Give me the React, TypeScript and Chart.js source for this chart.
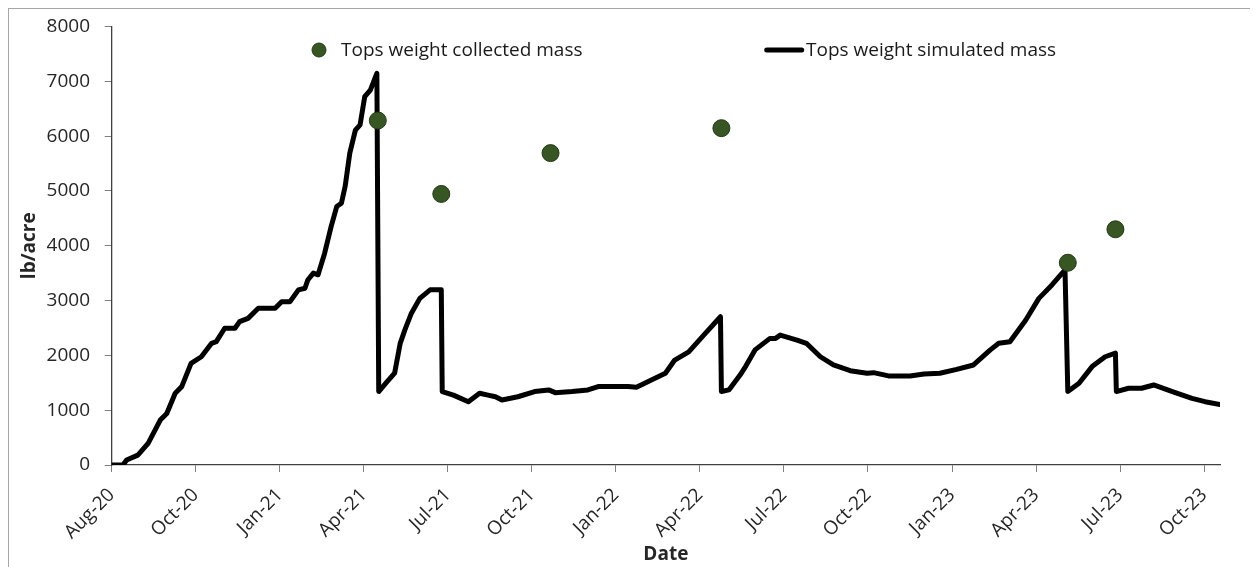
import React, { useEffect, useRef } from "react";
import { Chart, registerables } from "chart.js";

Chart.register(...registerables);

// x values are days since 2020-08-01
const SIM_DAYS = [
  0, 12, 16, 28, 39, 52, 59, 68, 75, 85, 96, 107, 112, 121, 132, 137, 146, 157, 175, 182, 191,
  200, 207, 210, 216, 221, 228, 235, 241, 246, 250, 255, 261, 266, 271, 277, 284, 286, 295, 303,
  309, 314, 321, 330, 341, 353, 354, 366, 382, 394, 403, 411, 418, 435, 453, 468, 475, 493, 510,
  521, 553, 562, 578, 593, 603, 618, 636, 652, 653, 661, 673, 679, 689, 705, 711, 716, 734, 744,
  759, 773, 791, 809, 816, 832, 855, 870, 887, 905, 923, 941, 950, 962, 979, 993, 1007, 1021,
  1024, 1036, 1050, 1064, 1075, 1076, 1089, 1103, 1116, 1136, 1157, 1171, 1187,
];
const SIM_VALUES = [
  0, 0, 90, 180, 395, 820, 940, 1310, 1430, 1855, 1975, 2220, 2250, 2495, 2495, 2615, 2675, 2860,
  2860, 2980, 2980, 3195, 3225, 3375, 3500, 3470, 3860, 4350, 4715, 4775, 5080, 5690, 6110, 6205,
  6720, 6840, 7145, 1340, 1520, 1675, 2220, 2465, 2770, 3040, 3195, 3195, 1340, 1275, 1155, 1310,
  1275, 1245, 1185, 1245, 1340, 1370, 1320, 1340, 1370, 1430, 1430, 1420, 1550, 1675, 1915, 2065,
  2405, 2705, 1340, 1370, 1640, 1800, 2100, 2310, 2310, 2370, 2280, 2220, 1975, 1825, 1720, 1675,
  1685, 1625, 1625, 1660, 1675, 1745, 1825, 2100, 2220, 2250, 2645, 3040, 3285, 3560, 1340, 1490,
  1795, 1975, 2040, 1340, 1400, 1400, 1460, 1340, 1215, 1155, 1105,
];

const OBS_DAYS = [285, 353, 470, 653, 1024, 1075];
const OBS_VALUES = [6285, 4945, 5690, 6145, 3690, 4300];

const X_TICK_LABELS = [
  "Aug-20", "Oct-20", "Jan-21", "Apr-21", "Jul-21", "Oct-21", "Jan-22",
  "Apr-22", "Jul-22", "Oct-22", "Jan-23", "Apr-23", "Jul-23", "Oct-23",
];
const X_TICK_STEP = 90;
const X_MAX = 1187;
const Y_MAX = 8000;
const Y_STEP = 1000;

const OBS_LABEL = "Tops weight collected mass";
const SIM_LABEL = "Tops weight simulated mass";

const FONT = "'Open Sans', sans-serif";
const GREEN = "#375623";

const legendPlugin = {
  id: "excelLegend",
  afterDraw(chart: any) {
    const ctx = chart.ctx;
    const a = chart.chartArea;
    ctx.save();
    const y = a.top + 23.5;
    ctx.font = `19px ${FONT}`;
    ctx.textBaseline = "middle";
    // item 1
    ctx.beginPath();
    ctx.arc(a.left + 207.3, y, 7, 0, Math.PI * 2);
    ctx.fillStyle = GREEN;
    ctx.fill();
    ctx.lineWidth = 1;
    ctx.strokeStyle = "#25391a";
    ctx.stroke();
    ctx.fillStyle = "#1a1a1a";
    ctx.textAlign = "left";
    ctx.fillText(OBS_LABEL, a.left + 229.3, y + 1);
    // item 2
    ctx.beginPath();
    ctx.moveTo(a.left + 655, y);
    ctx.lineTo(a.left + 690, y);
    ctx.lineWidth = 5;
    ctx.lineCap = "round";
    ctx.strokeStyle = "#000";
    ctx.stroke();
    ctx.fillText(SIM_LABEL, a.left + 694.3, y + 1);
    ctx.restore();
  },
};

export default function App() {
  const ref = useRef<HTMLCanvasElement | null>(null);
  useEffect(() => {
    if (!ref.current) return;
    const sim = SIM_DAYS.map((d, i) => ({ x: d, y: SIM_VALUES[i] }));
    const obs = OBS_DAYS.map((d, i) => ({ x: d, y: OBS_VALUES[i] }));
    const tickVals = X_TICK_LABELS.map((_, i) => i * X_TICK_STEP);
    const chart = new Chart(ref.current, {
      type: "line",
      data: {
        datasets: [
          {
            type: "line",
            label: SIM_LABEL,
            data: sim,
            borderColor: "#000",
            borderWidth: 5,
            pointRadius: 0,
            borderJoinStyle: "round",
            borderCapStyle: "round",
            tension: 0,
            fill: false,
            order: 2,
          } as any,
          {
            type: "scatter",
            label: OBS_LABEL,
            data: obs,
            backgroundColor: GREEN,
            borderColor: "#25391a",
            borderWidth: 1,
            pointRadius: 8.5,
            showLine: false,
            order: 1,
          } as any,
        ],
      },
      options: {
        animation: false,
        responsive: false,
        maintainAspectRatio: false,
        layout: { padding: { top: 17.5, right: 39, left: 0, bottom: 0 } },
        plugins: {
          legend: { display: false },
          tooltip: { enabled: false },
        },
        scales: {
          x: {
            type: "linear",
            min: 0,
            max: X_MAX,
            afterBuildTicks: (s: any) => {
              s.ticks = tickVals.map((v) => ({ value: v }));
            },
            afterFit: (s: any) => {
              s.height = 104;
              s.paddingLeft = 0;
              s.paddingRight = 0;
            },
            grid: {
              drawOnChartArea: false,
              drawTicks: true,
              tickLength: 7,
              tickColor: "#808080",
            },
            border: { display: true, color: "#404040", width: 1.3 },
            ticks: {
              autoSkip: false,
              minRotation: 45,
              maxRotation: 45,
              padding: 12,
              color: "#262626",
              font: { family: FONT, size: 19 },
              callback: (v: any) => {
                const i = Math.round(Number(v) / X_TICK_STEP);
                return X_TICK_LABELS[i] ?? "";
              },
            },
            title: {
              display: true,
              text: "Date",
              color: "#262626",
              font: { family: FONT, size: 19, weight: "bold" },
              padding: { top: 0, bottom: 3 },
            },
          },
          y: {
            type: "linear",
            min: 0,
            max: Y_MAX,
            afterFit: (s: any) => {
              s.width = 102.7;
              s.paddingTop = 0;
              s.paddingBottom = 0;
            },
            grid: {
              drawOnChartArea: false,
              drawTicks: true,
              tickLength: 7,
              tickColor: "#808080",
            },
            border: { display: true, color: "#404040", width: 1.3 },
            ticks: {
              stepSize: Y_STEP,
              padding: 14.7,
              color: "#262626",
              font: { family: FONT, size: 19 },
              callback: (v: any) => String(v),
            },
            title: {
              display: true,
              text: "lb/acre",
              color: "#262626",
              font: { family: FONT, size: 19, weight: "bold" },
              padding: { top: 9.6, bottom: 0 },
            },
          },
        },
      },
      plugins: [legendPlugin],
    });
    return () => chart.destroy();
  }, []);

  return (
    <div
      style={{
        position: "relative",
        width: 1260,
        height: 570,
        border: "1px solid #a6a6a6",
        background: "#fff",
      }}
    >
      <canvas ref={ref} width={1250} height={560} style={{ display: "block" }} />
    </div>
  );
}
